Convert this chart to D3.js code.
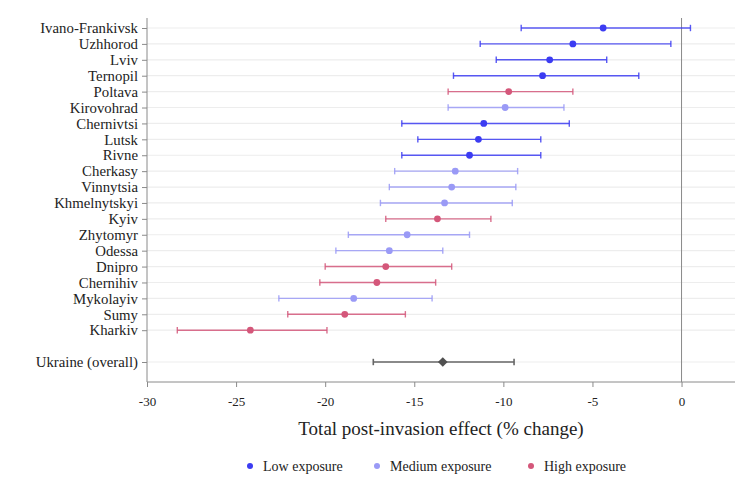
<!DOCTYPE html>
<html>
<head>
<meta charset="utf-8">
<script src="https://cdn.jsdelivr.net/npm/d3@7"></script>
<style>
  html, body { margin: 0; padding: 0; background: #fff; }
  svg { display: block; }
  text { font-family: "Liberation Serif", "DejaVu Serif", serif; fill: #222; }
</style>
</head>
<body>
<svg id="chart" width="754" height="503"></svg>
<script>
const regions = ["Ivano-Frankivsk","Uzhhorod","Lviv","Ternopil","Poltava","Kirovohrad","Chernivtsi","Lutsk","Rivne","Cherkasy","Vinnytsia","Khmelnytskyi","Kyiv","Zhytomyr","Odessa","Dnipro","Chernihiv","Mykolayiv","Sumy","Kharkiv"];
const exposure = ["Low","Low","Low","Low","High","Medium","Low","Low","Low","Medium","Medium","Medium","High","Medium","Medium","High","High","Medium","High","High"];
const estimate = [-4.4,-6.1,-7.4,-7.8,-9.7,-9.9,-11.1,-11.4,-11.9,-12.7,-12.9,-13.3,-13.7,-15.4,-16.4,-16.6,-17.1,-18.4,-18.9,-24.2];
const lower = [-9.0,-11.3,-10.4,-12.8,-13.1,-13.1,-15.7,-14.8,-15.7,-16.1,-16.4,-16.9,-16.6,-18.7,-19.4,-20.0,-20.3,-22.6,-22.1,-28.3];
const upper = [0.5,-0.6,-4.2,-2.4,-6.1,-6.6,-6.3,-7.9,-7.9,-9.2,-9.3,-9.5,-10.7,-11.9,-13.4,-12.9,-13.8,-14.0,-15.5,-19.9];
const overallLabel = "Ukraine (overall)";
const overall = { est: -13.4, lo: -17.3, hi: -9.4 };
const xTicks = [-30,-25,-20,-15,-10,-5,0];
const legendLabels = ["Low exposure","Medium exposure","High exposure"];
const exposureLevels = ["Low","Medium","High"];
const exposureColors = ["#3c3cf2","#9a9af6","#d4577a"];

const svg = d3.select("#chart");
const pL = 147, pR = 735, pT = 18, pB = 382;

const x = d3.scaleLinear().domain([-30, 3]).range([pL, pR]);
const allLabels = regions.concat([""], [overallLabel]);
const y = d3.scaleLinear().domain([0, allLabels.length - 1]).range([28, 362]);
const color = d3.scaleOrdinal().domain(exposureLevels).range(exposureColors);

// gridlines
const rowIdx = d3.range(allLabels.length).filter(i => allLabels[i] !== "");
svg.append("g").selectAll("line").data(rowIdx).join("line")
  .attr("x1", pL).attr("x2", pR)
  .attr("y1", d => y(d)).attr("y2", d => y(d))
  .attr("stroke", "#ededed").attr("stroke-width", 1.2);

// zero line
svg.append("line")
  .attr("x1", x(0)).attr("x2", x(0)).attr("y1", pT).attr("y2", pB)
  .attr("stroke", "#8a8a8a").attr("stroke-width", 1);

// x axis
const xAxis = svg.append("g").attr("transform", `translate(0,${pB})`)
  .call(d3.axisBottom(x).tickValues(xTicks).tickSize(5).tickPadding(10).tickFormat(d => String(d)));
xAxis.select(".domain").attr("stroke", "#8a8a8a").attr("d", `M${pL},0H${pR}`);
xAxis.selectAll(".tick line").attr("stroke", "#8a8a8a");
xAxis.selectAll(".tick text").attr("font-size", 13).attr("fill", "#333")
  .style("font-family", '"Liberation Serif", serif');

// y axis
const yAxis = svg.append("g").attr("transform", `translate(${pL},0)`)
  .call(d3.axisLeft(y).tickValues(rowIdx).tickSize(5).tickPadding(4).tickFormat(i => allLabels[i]));
yAxis.select(".domain").attr("stroke", "#8a8a8a").attr("d", `M0,${pT}V${pB}`);
yAxis.selectAll(".tick line").attr("stroke", "#8a8a8a");
yAxis.selectAll(".tick text").attr("font-size", 14.8).attr("fill", "#2a2a2a")
  .style("font-family", '"Liberation Serif", serif');

// error bars
const cap = 3.2;
const g = svg.append("g");
const data = regions.map((r, i) => ({ i, r, e: exposure[i], est: estimate[i], lo: lower[i], hi: upper[i] }));
const bars = g.selectAll("g.bar").data(data).join("g").attr("class", "bar")
  .attr("stroke", d => color(d.e)).attr("stroke-width", 1.4).attr("stroke-opacity", 0.85);
bars.append("line").attr("x1", d => x(d.lo)).attr("x2", d => x(d.hi)).attr("y1", d => y(d.i)).attr("y2", d => y(d.i));
bars.append("line").attr("x1", d => x(d.lo)).attr("x2", d => x(d.lo)).attr("y1", d => y(d.i) - cap).attr("y2", d => y(d.i) + cap);
bars.append("line").attr("x1", d => x(d.hi)).attr("x2", d => x(d.hi)).attr("y1", d => y(d.i) - cap).attr("y2", d => y(d.i) + cap);
g.selectAll("circle").data(data).join("circle")
  .attr("cx", d => x(d.est)).attr("cy", d => y(d.i)).attr("r", 3.4)
  .attr("fill", d => color(d.e));

// overall
const oi = allLabels.length - 1;
const og = svg.append("g").attr("stroke", "#666").attr("stroke-width", 1.6);
og.append("line").attr("x1", x(overall.lo)).attr("x2", x(overall.hi)).attr("y1", y(oi)).attr("y2", y(oi));
og.append("line").attr("x1", x(overall.lo)).attr("x2", x(overall.lo)).attr("y1", y(oi) - cap).attr("y2", y(oi) + cap);
og.append("line").attr("x1", x(overall.hi)).attr("x2", x(overall.hi)).attr("y1", y(oi) - cap).attr("y2", y(oi) + cap);
svg.append("path").attr("d", d3.symbol().type(d3.symbolDiamond2).size(60)())
  .attr("transform", `translate(${x(overall.est)},${y(oi)})`)
  .attr("fill", "#505050");

// x title
svg.append("text").attr("x", 441).attr("y", 435)
  .attr("text-anchor", "middle").attr("font-size", 19).attr("fill", "#222")
  .text("Total post-invasion effect (% change)");

// legend
const legX = [250, 377, 531];
const leg = svg.append("g").selectAll("g").data(legendLabels).join("g")
  .attr("transform", (d, i) => `translate(${legX[i]},466)`);
leg.append("circle").attr("r", 3).attr("fill", (d, i) => color(exposureLevels[i]));
leg.append("text").attr("x", 13).attr("y", 4.5).attr("font-size", 14).attr("fill", "#333").text(d => d);
</script>
</body>
</html>
